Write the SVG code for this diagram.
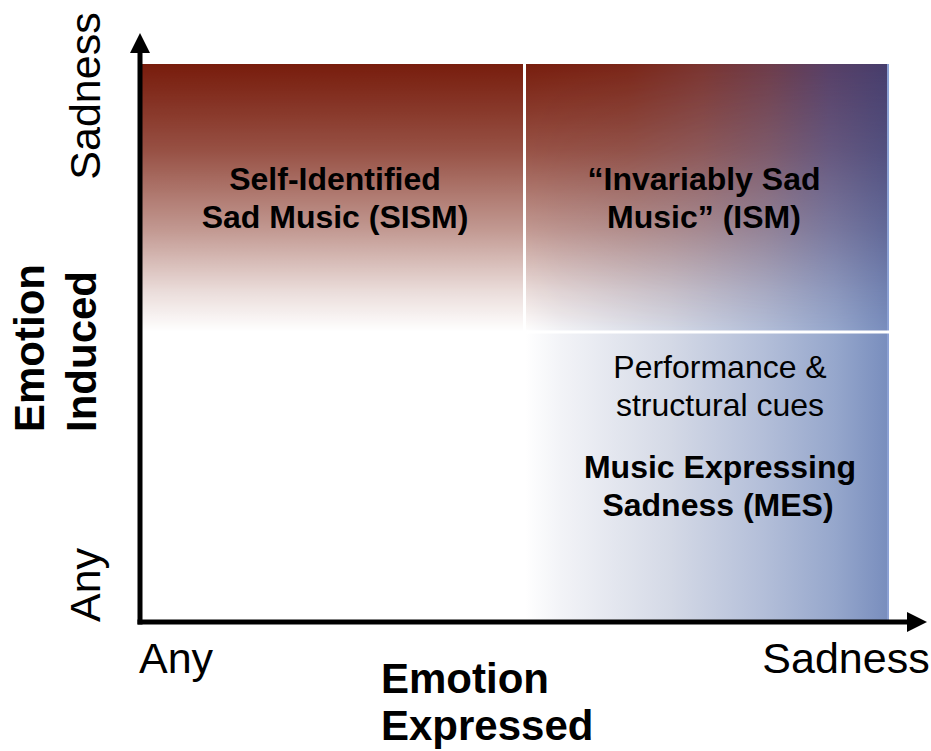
<svg xmlns="http://www.w3.org/2000/svg" width="931" height="751" viewBox="0 0 931 751">
  <style>
    text { font-family: "Liberation Sans", Arial, Helvetica, sans-serif; fill: #000; }
    .ax { font-size: 43px; }
    .title { font-size: 42px; font-weight: bold; }
    .lbl { font-size: 32px; font-weight: bold; text-anchor: middle; }
    .cue { font-size: 32px; text-anchor: middle; }
    .axis { stroke: #000; stroke-width: 5; fill: none; }
    .divider { stroke: #fff; stroke-width: 3; fill: none; }
  </style>
  <defs>
    <linearGradient id="blueH" gradientUnits="userSpaceOnUse" x1="525" y1="0" x2="889" y2="0">
      <stop offset="0" stop-color="#ffffff"/>
      <stop offset="0.1" stop-color="#f2f3f7"/>
      <stop offset="0.4" stop-color="#d4d9e6"/>
      <stop offset="0.65" stop-color="#b4bfd9"/>
      <stop offset="0.85" stop-color="#96a7cc"/>
      <stop offset="1" stop-color="#788dbd"/>
    </linearGradient>
    <linearGradient id="topRow" gradientUnits="userSpaceOnUse" x1="142" y1="0" x2="889" y2="0">
      <stop offset="0" stop-color="#781c0c"/>
      <stop offset="0.513" stop-color="#781e0e"/>
      <stop offset="0.65" stop-color="#7a2618"/>
      <stop offset="0.75" stop-color="#7a3430"/>
      <stop offset="0.84" stop-color="#6d3c4a"/>
      <stop offset="0.92" stop-color="#573f66"/>
      <stop offset="1" stop-color="#463d6c"/>
    </linearGradient>
    <linearGradient id="fadeV" gradientUnits="userSpaceOnUse" x1="0" y1="65" x2="0" y2="332">
      <stop offset="0" stop-color="#fff" stop-opacity="1"/>
      <stop offset="0.2" stop-color="#fff" stop-opacity="0.86"/>
      <stop offset="0.32" stop-color="#fff" stop-opacity="0.77"/>
      <stop offset="0.62" stop-color="#fff" stop-opacity="0.45"/>
      <stop offset="0.85" stop-color="#fff" stop-opacity="0.15"/>
      <stop offset="1" stop-color="#fff" stop-opacity="0"/>
    </linearGradient>
    <mask id="fadeMask" maskUnits="userSpaceOnUse" x="142" y="64" width="748" height="270">
      <rect x="142" y="64" width="748" height="270" fill="url(#fadeV)"/>
    </mask>
    <marker id="arrow" viewBox="0 0 20 20" refX="0" refY="10" markerWidth="20" markerHeight="20" markerUnits="userSpaceOnUse" orient="auto">
      <polygon points="0,0 20,10 0,20" fill="#000"/>
    </marker>
  </defs>

  <!-- background regions -->
  <g id="regions">
    <rect id="mes-band" x="525" y="64" width="364" height="558" fill="url(#blueH)"/>
    <rect id="sism-band" x="142" y="64" width="747" height="268" fill="url(#topRow)" mask="url(#fadeMask)"/>
    <line x1="888" y1="64" x2="888" y2="620" stroke="#8ca1d4" stroke-width="2"/>
  </g>

  <!-- dividers and axes -->
  <g id="connectors">
    <line class="divider" x1="524.5" y1="64" x2="524.5" y2="332"/>
    <line class="divider" x1="524" y1="332" x2="889" y2="332"/>
    <line class="axis" x1="140" y1="624.5" x2="140" y2="53" marker-end="url(#arrow)"/>
    <line class="axis" x1="137.5" y1="622" x2="907" y2="622" marker-end="url(#arrow)"/>
  </g>

  <g id="node-sism">
    <text class="lbl" x="335" y="190">Self-Identified</text>
    <text class="lbl" x="335" y="228">Sad Music (SISM)</text>
  </g>

  <g id="node-ism">
    <text class="lbl" x="704" y="190">“Invariably Sad</text>
    <text class="lbl" x="704" y="228">Music” (ISM)</text>
  </g>

  <g id="node-mes">
    <text class="cue" x="720" y="378">Performance &amp;</text>
    <text class="cue" x="720" y="416">structural cues</text>
    <text class="lbl" x="720" y="478">Music Expressing</text>
    <text class="lbl" x="718" y="516">Sadness (MES)</text>
  </g>

  <g id="axis-y-labels">
    <text class="ax" text-anchor="middle" transform="translate(100,96) rotate(-90)">Sadness</text>
    <text class="ax" text-anchor="middle" transform="translate(100,585) rotate(-90)">Any</text>
    <text class="title" transform="translate(44,432) rotate(-90)">Emotion</text>
    <text class="title" transform="translate(96,432) rotate(-90)">Induced</text>
  </g>

  <g id="axis-x-labels">
    <text class="ax" x="139" y="673">Any</text>
    <text class="ax" x="846" y="673" text-anchor="middle">Sadness</text>
    <text class="title" x="381" y="693">Emotion</text>
    <text class="title" x="381" y="740">Expressed</text>
  </g>
</svg>
